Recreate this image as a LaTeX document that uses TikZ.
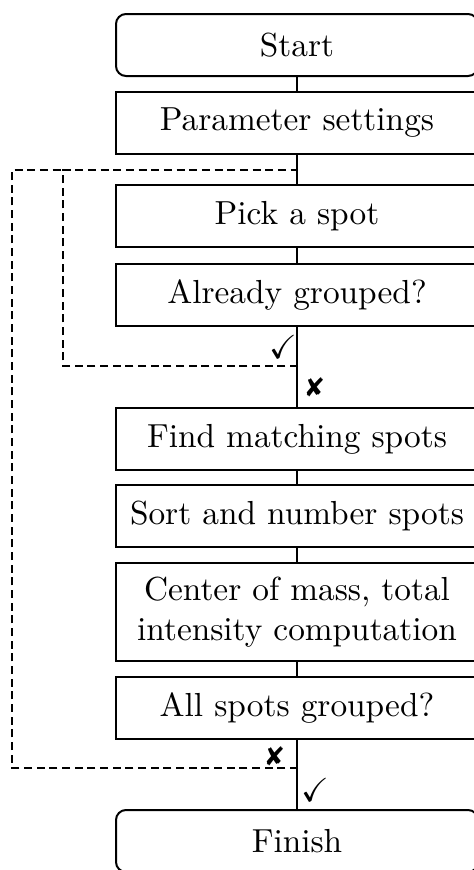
\documentclass[tikz,border=0pt]{standalone}
\usepackage{amssymb}
\usepackage{pifont}

\tikzset{
  stepbox/.style={draw, minimum width=108.6pt, minimum height=18.6pt, inner sep=0pt, align=center},
  endbox/.style={stepbox, rounded corners=3pt, line width=0.6pt},
  loopline/.style={dash pattern=on 2.4pt off 1.4pt},
}
\newcommand{\yes}{\checkmark}
\newcommand{\no}{{\footnotesize\ding{56}}}

\begin{document}
\begin{tikzpicture}[x=0.3pt, y=-0.3pt]
  \useasboundingbox (0,0) rectangle (474,870);
  \clip (0,0) rectangle (474,870);

  % Boxes of the main column
  \node[endbox]  (start)  at (297,45)  {Start};
  \node[stepbox] (param)  at (297,123) {Parameter settings};
  \node[stepbox] (pick)   at (297,216) {Pick a spot};
  \node[stepbox] (check)  at (297,295) {Already grouped?};
  \node[stepbox] (find)   at (297,439) {Find matching spots};
  \node[stepbox] (sort)   at (297,516) {Sort and number spots};
  \node[stepbox, minimum height=29.4pt] (mass) at (297,612)
    {Center of mass, total\\intensity computation};
  \node[stepbox] (all)    at (297,708) {All spots grouped?};
  \node[endbox]  (finish) at (297,841) {Finish};

  % Branch points
  \coordinate (top)    at (298,170);
  \coordinate (inner)  at (298,366);
  \coordinate (outer)  at (298,768);

  % Solid connections
  \draw (start) -- (param);
  \draw (param) -- (pick);
  \draw (pick) -- (check);
  \draw (check) -- (find);
  \draw (find) -- (sort);
  \draw (sort) -- (mass);
  \draw (mass) -- (all);
  \draw (all) -- (finish);

  % Loops back to the top
  \draw[loopline] (inner) -| (63,170) -- (top);
  \draw[loopline] (outer) -| (12,170) -- (63,170);

  % Answers
  \node (inneryes) at (283,347) {\yes};
  \node (innerno)  at (315,387) {\no};
  \node (outerno)  at (275,756) {\no};
  \node (outeryes) at (315,790) {\yes};
\end{tikzpicture}
\end{document}
